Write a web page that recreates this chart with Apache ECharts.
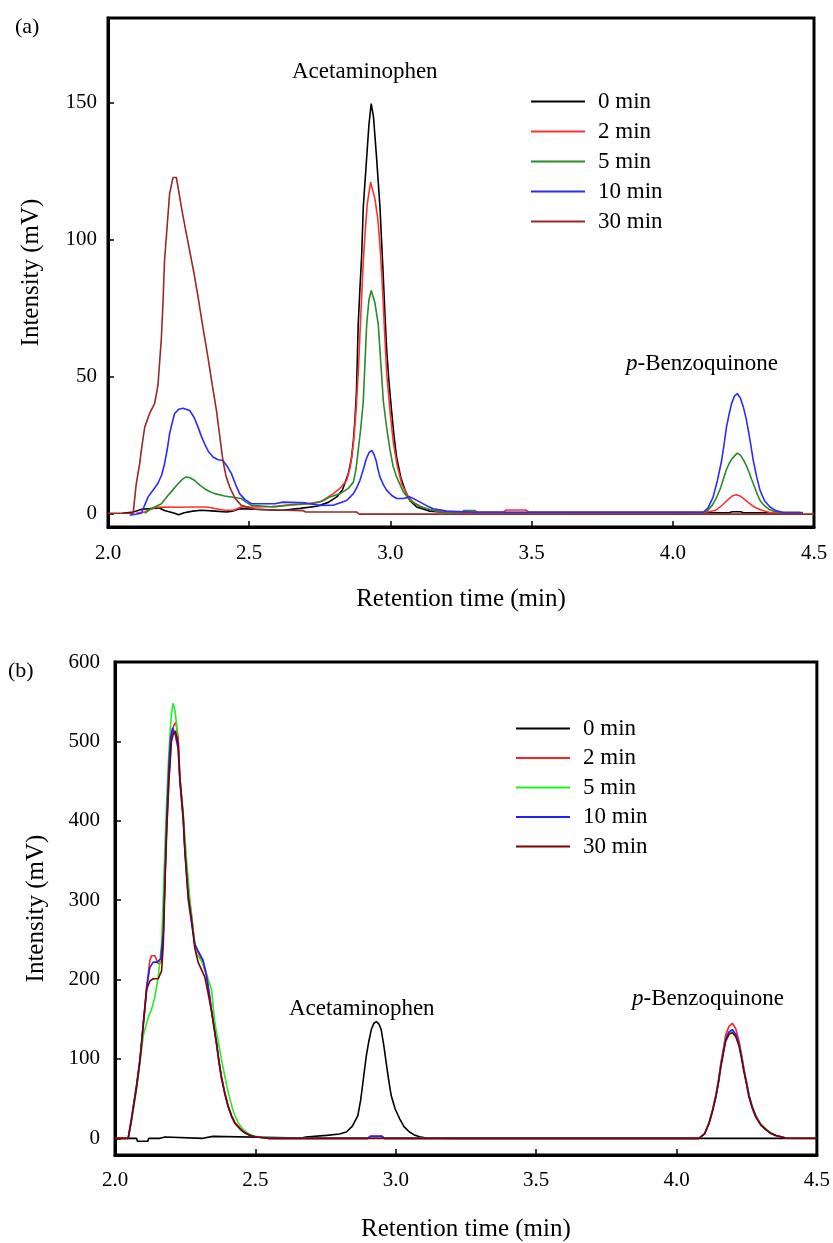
<!DOCTYPE html>
<html>
<head>
<meta charset="utf-8">
<script src="https://cdn.jsdelivr.net/npm/echarts@6/dist/echarts.min.js"></script>
<style>
html,body{margin:0;padding:0;background:#fff;}
#chart{width:833px;height:1243px;}
</style>
</head>
<body>
<div id="chart"></div>
<script>
// ---------- DATA ----------
var seriesNames = ['0 min', '2 min', '5 min', '10 min', '30 min'];
var xTicks = [2.0, 2.5, 3.0, 3.5, 4.0, 4.5];
var yTicksA = [0, 50, 100, 150];
var yTicksB = [0, 100, 200, 300, 400, 500, 600];
var peakLabels = ['Acetaminophen', 'p-Benzoquinone'];

// Panel (a) chromatograms: [retention time (min), intensity (mV)]
var a0min = [[2.05,0],[2.09,0.5],[2.12,1.5],[2.15,1.7],[2.18,2],[2.2,1],[2.236,0],[2.25,-0.5],[2.27,0.2],[2.3,0.8],[2.33,1.1],[2.38,0.8],[2.42,0.5],[2.44,0.8],[2.467,1.7],[2.52,1.5],[2.58,1.2],[2.62,1.1],[2.68,1.8],[2.74,2.6],[2.78,4],[2.81,6],[2.83,8.5],[2.851,14.5],[2.862,20],[2.869,26.6],[2.875,35],[2.88,45],[2.886,69],[2.892,82],[2.898,93.5],[2.904,112],[2.91,121],[2.916,130],[2.924,142],[2.932,149.7],[2.94,145],[2.951,130],[2.957,121],[2.963,112],[2.969,99],[2.975,86],[2.981,72],[2.987,59.5],[2.995,48],[3.004,37.6],[3.013,28],[3.022,20.5],[3.037,13],[3.052,8.4],[3.07,4.5],[3.093,2.3],[3.14,0.8],[3.2,0.3],[4.2,0.2],[4.21,0.6],[4.24,0.6],[4.25,0.2],[4.46,0.2]];
var a2min = [[2.1,0],[2.13,0.5],[2.15,1.5],[2.172,2.2],[2.2,2.3],[2.25,2.2],[2.3,2.3],[2.35,2.3],[2.413,1.1],[2.444,1.1],[2.472,2.3],[2.52,2.3],[2.58,2.5],[2.62,2.8],[2.68,3.2],[2.75,4.1],[2.798,7.2],[2.825,9.5],[2.845,12],[2.858,17],[2.869,25.4],[2.878,37],[2.886,51],[2.892,65],[2.898,79],[2.904,92],[2.91,102],[2.918,113],[2.93,121],[2.945,115],[2.955,108],[2.963,98],[2.969,88],[2.975,76],[2.981,63],[2.987,51],[2.999,37],[3.011,25.4],[3.025,17],[3.04,10.8],[3.06,6.5],[3.081,4.1],[3.11,2.3],[3.14,1.3],[3.2,0.5],[3.4,0.5],[3.41,1.2],[3.48,1.2],[3.49,0.5],[4.12,0.5],[4.15,1],[4.17,2.5],[4.19,4.5],[4.21,6.3],[4.225,6.8],[4.24,6.2],[4.255,5],[4.27,3.7],[4.285,2.5],[4.31,1.3],[4.34,0.4],[4.45,0.3]];
var a5min = [[2.13,0],[2.153,1.7],[2.189,3.5],[2.218,7.2],[2.248,10.8],[2.265,12.6],[2.277,13.3],[2.29,13],[2.307,12],[2.325,10.3],[2.342,9],[2.36,8],[2.378,7.2],[2.413,6.3],[2.472,5.4],[2.49,4],[2.508,2.9],[2.59,2.3],[2.65,3.2],[2.72,3.5],[2.76,4.5],[2.786,6],[2.822,7.2],[2.85,9],[2.869,11.4],[2.878,16],[2.886,23],[2.895,31],[2.904,41],[2.91,55],[2.916,69],[2.924,78],[2.932,81.4],[2.945,77],[2.957,69],[2.966,55],[2.975,41],[2.987,31],[2.999,23],[3.01,17],[3.022,13.3],[3.045,8],[3.069,4.7],[3.1,2.7],[3.128,1.7],[3.176,0.5],[3.25,0.3],[3.26,1],[3.3,1],[3.31,0.3],[4.11,0.3],[4.125,1.2],[4.14,3],[4.155,5.8],[4.17,9.5],[4.18,12.8],[4.19,16],[4.2,18.3],[4.21,20],[4.228,22],[4.24,21.2],[4.25,19.5],[4.26,17.5],[4.27,15],[4.28,12.2],[4.29,9.5],[4.3,6.8],[4.31,4.5],[4.325,2.7],[4.34,1.5],[4.36,0.7],[4.38,0.3],[4.45,0.3]];
var a10min = [[2.077,-0.7],[2.118,0],[2.13,3],[2.142,6],[2.16,8.5],[2.177,11],[2.19,14],[2.2,18],[2.21,23.5],[2.218,29],[2.227,33],[2.236,36.5],[2.25,38],[2.266,38.4],[2.289,37.6],[2.305,35],[2.319,31.5],[2.33,28.3],[2.342,25.4],[2.356,22.5],[2.372,20.6],[2.39,19.6],[2.407,19.3],[2.42,17.5],[2.437,14.5],[2.452,10.5],[2.466,7.2],[2.485,5],[2.508,3.5],[2.59,3.5],[2.62,4.1],[2.7,3.8],[2.75,2.9],[2.8,3],[2.845,4.7],[2.869,7.2],[2.88,9.2],[2.892,12],[2.904,16],[2.915,20],[2.925,22.3],[2.934,23],[2.942,21.5],[2.95,19],[2.956,16],[2.963,13.3],[2.975,10.5],[2.987,8.4],[3.005,6.5],[3.022,5.4],[3.046,5.4],[3.069,6],[3.085,5.2],[3.105,4.1],[3.128,2.8],[3.152,1.7],[3.2,0.8],[3.3,0.4],[4.108,0.4],[4.125,2],[4.143,6],[4.158,12],[4.173,19.3],[4.182,25.5],[4.19,31.5],[4.2,36.5],[4.208,40],[4.218,42.8],[4.229,43.7],[4.24,42],[4.25,38.8],[4.26,34.5],[4.268,30],[4.277,24.5],[4.285,19.3],[4.297,13.3],[4.309,8.4],[4.325,4.6],[4.344,2.3],[4.365,1],[4.391,0.3],[4.46,0.3]];
var a30min = [[2.0,0],[2.089,0],[2.1,10.8],[2.112,18],[2.118,23],[2.13,31.5],[2.147,36.4],[2.165,40.1],[2.174,45],[2.177,47],[2.189,64],[2.195,77.7],[2.2,92],[2.21,105.7],[2.218,116.7],[2.23,122.7],[2.242,122.7],[2.25,118],[2.26,111.8],[2.274,104],[2.289,96],[2.304,88],[2.319,79],[2.336,68],[2.354,57],[2.369,47],[2.384,37.6],[2.396,28],[2.407,19.3],[2.418,13.5],[2.431,9.6],[2.45,5.5],[2.472,2.9],[2.519,1.5],[2.6,1.2],[2.69,1],[2.7,0.5],[2.88,0.5],[2.89,-0.3],[4.5,-0.3]];

// Panel (b) chromatograms
var b0min = [[2.0,0],[2.077,0],[2.08,-3.7],[2.117,-3.7],[2.12,0],[2.16,0],[2.162,1.7],[2.178,1.7],[2.18,0],[2.313,0],[2.315,2.5],[2.349,2.5],[2.351,0],[2.664,0.5],[2.68,1.7],[2.753,3.7],[2.8,5.5],[2.824,8],[2.845,15],[2.865,28.7],[2.875,48],[2.883,70],[2.889,87],[2.895,103.5],[2.904,122],[2.913,137],[2.922,145],[2.931,147],[2.94,144],[2.948,137],[2.957,118],[2.966,95],[2.975,73],[2.984,53.6],[2.998,37],[3.014,24.5],[3.03,14.5],[3.049,8],[3.066,4.3],[3.085,2],[3.108,0.4],[3.2,0],[4.5,0]];
var b2min = [[2.0,0],[2.047,0],[2.059,24.5],[2.077,66],[2.089,99],[2.101,145],[2.113,191],[2.124,224],[2.13,230],[2.142,230],[2.154,220],[2.166,222],[2.172,253],[2.178,328],[2.184,390],[2.192,452],[2.201,505],[2.209,520],[2.217,524],[2.225,505],[2.231,455],[2.243,405],[2.249,365],[2.261,310],[2.273,280],[2.284,245],[2.296,234],[2.308,226],[2.326,205],[2.335,185],[2.344,162],[2.353,141],[2.362,120],[2.37,99],[2.379,78.5],[2.391,58],[2.403,41],[2.415,29],[2.427,20],[2.445,13],[2.462,8],[2.48,4.5],[2.498,2],[2.545,0],[2.9,0],[2.91,3],[2.95,3],[2.96,0],[4.08,0],[4.1,6],[4.116,20],[4.128,35],[4.14,54],[4.15,75],[4.158,95],[4.167,113],[4.175,130],[4.187,141],[4.199,145],[4.211,138],[4.223,122],[4.232,105],[4.24,88],[4.25,70],[4.258,55],[4.27,40],[4.282,29],[4.3,18],[4.318,12],[4.335,7],[4.353,4],[4.389,0.4]];
var b5min = [[2.047,0],[2.059,22],[2.077,62],[2.089,95],[2.101,130],[2.119,153],[2.13,162],[2.142,178],[2.154,203],[2.166,245],[2.172,305],[2.178,369],[2.184,425],[2.19,473],[2.196,511],[2.201,535],[2.207,548],[2.213,540],[2.219,523],[2.225,490],[2.231,452],[2.243,410],[2.255,350],[2.267,300],[2.279,260],[2.29,232],[2.305,225],[2.32,215],[2.332,200],[2.344,187],[2.35,165],[2.356,145],[2.365,127],[2.374,110],[2.382,94],[2.391,78.5],[2.4,63],[2.409,50],[2.418,38],[2.427,28.7],[2.438,20],[2.45,14],[2.462,9.5],[2.474,6],[2.49,3.5],[2.51,2],[2.56,0],[2.9,0],[2.91,2],[2.95,2],[2.96,0],[4.08,0],[4.1,6],[4.116,20],[4.128,35],[4.14,53],[4.15,73],[4.158,93],[4.167,110],[4.175,126],[4.187,133],[4.199,135],[4.211,130],[4.223,119],[4.232,103],[4.24,87],[4.25,70],[4.258,55],[4.27,40],[4.282,29],[4.3,18],[4.318,12],[4.335,7],[4.353,4],[4.389,0.4]];
var b10min = [[2.047,0],[2.059,26],[2.077,68],[2.089,100],[2.101,146],[2.113,190],[2.124,215],[2.136,222],[2.15,222],[2.163,226],[2.172,260],[2.178,330],[2.184,400],[2.192,470],[2.198,505],[2.205,517],[2.215,508],[2.225,490],[2.231,450],[2.243,400],[2.249,360],[2.261,300],[2.273,270],[2.284,245],[2.296,236],[2.314,224],[2.326,205],[2.335,183],[2.344,160],[2.353,139],[2.362,118],[2.37,97],[2.379,76],[2.391,56],[2.403,40],[2.415,28],[2.427,19],[2.445,12],[2.462,7],[2.48,4],[2.498,2],[2.545,0],[2.9,0],[2.91,2.5],[2.95,2.5],[2.96,0],[4.08,0],[4.1,5.5],[4.116,19],[4.128,34],[4.14,52],[4.15,72],[4.158,92],[4.167,109],[4.175,125],[4.187,134],[4.199,137],[4.211,131],[4.223,118],[4.232,102],[4.24,86],[4.25,69],[4.258,54],[4.27,39],[4.282,28],[4.3,17],[4.318,11],[4.335,6.5],[4.353,3.5],[4.389,0.3]];
var b30min = [[2.0,0],[2.047,0],[2.059,24],[2.077,65],[2.089,98],[2.101,143],[2.113,188],[2.124,198],[2.136,201],[2.154,201],[2.166,211],[2.172,245],[2.178,320],[2.184,385],[2.192,450],[2.201,500],[2.208,510],[2.215,513],[2.225,498],[2.231,455],[2.243,405],[2.249,362],[2.261,305],[2.273,275],[2.284,240],[2.296,222],[2.32,203],[2.332,182],[2.344,160],[2.353,139],[2.362,118],[2.37,97],[2.379,77],[2.391,57],[2.403,40],[2.415,28],[2.427,19],[2.445,12],[2.462,7],[2.48,4],[2.498,2],[2.545,0],[4.08,0],[4.1,5.5],[4.116,19],[4.128,34],[4.14,52],[4.15,71],[4.158,90],[4.167,107],[4.175,122],[4.187,131],[4.199,133],[4.211,128],[4.223,116],[4.232,100],[4.24,84],[4.25,67],[4.258,52],[4.27,38],[4.282,27],[4.3,17],[4.318,11],[4.335,6.5],[4.353,3.5],[4.389,0.3],[4.5,0]];

var dataA = [a0min, a2min, a5min, a10min, a30min];
var dataB = [b0min, b2min, b5min, b10min, b30min];
var colorsA = ['#000000', '#ff3030', '#2a8a2a', '#2b2bff', '#992828'];
var colorsB = ['#000000', '#ff2020', '#22ee22', '#2020ff', '#800000'];

// ---------- CHART ----------
var FONT = '"Liberation Serif", "Times New Roman", serif';
var chart = echarts.init(document.getElementById('chart'), null, {renderer: 'canvas'});

function xAxisCfg(gi, margin, gap) {
  return {
    type: 'value', gridIndex: gi, min: 2.0, max: 4.5, interval: 0.5,
    name: 'Retention time (min)', nameLocation: 'middle', nameGap: gap,
    nameTextStyle: {fontFamily: FONT, fontSize: 25, color: '#000'},
    axisLine: {show: true, onZero: false, lineStyle: {color: '#000', width: 3}},
    axisTick: {show: true, inside: true, length: 6, lineStyle: {color: '#000', width: 1.5}},
    axisLabel: {fontFamily: FONT, fontSize: 21, color: '#000', margin: margin,
      formatter: function (v) { return v.toFixed(1); }},
    splitLine: {show: false}
  };
}
function yAxisCfg(gi, min, max, ticks, margin, gap) {
  return {
    type: 'value', gridIndex: gi, min: min, max: max,
    name: 'Intensity (mV)', nameLocation: 'middle', nameGap: gap,
    nameTextStyle: {fontFamily: FONT, fontSize: 25, color: '#000'},
    axisLine: {show: true, onZero: false, lineStyle: {color: '#000', width: 3}},
    axisTick: {show: true, inside: true, length: 6, customValues: ticks, lineStyle: {color: '#000', width: 1.5}},
    axisLabel: {fontFamily: FONT, fontSize: 21, color: '#000', margin: margin, customValues: ticks},
    splitLine: {show: false}
  };
}

var series = [];
seriesNames.forEach(function (n, i) {
  series.push({name: n, type: 'line', xAxisIndex: 0, yAxisIndex: 0, data: dataA[i],
    symbol: 'none', smooth: false, lineStyle: {color: colorsA[i], width: 1.6}, itemStyle: {color: colorsA[i]}, z: 2 + i});
});
seriesNames.forEach(function (n, i) {
  series.push({name: n, type: 'line', xAxisIndex: 1, yAxisIndex: 1, data: dataB[i],
    symbol: 'none', smooth: false, lineStyle: {color: colorsB[i], width: 1.6}, itemStyle: {color: colorsB[i]}, z: 2 + i});
});

function legendCfg(left, top, colors, gap) {
  return {
    orient: 'vertical', left: left, top: top, itemWidth: 54, itemHeight: 2, itemGap: gap,
    icon: 'rect', selectedMode: false,
    textStyle: {fontFamily: FONT, fontSize: 23, color: '#000', lineHeight: 23, padding: [0, 0, 0, 8]},
    data: seriesNames.map(function (n, i) { return {name: n, itemStyle: {color: colors[i]}}; })
  };
}

var textStyleBase = {fontFamily: FONT, fontSize: 23, fill: '#000'};
function label(x, y, text) {
  return {type: 'text', left: x, top: y, style: Object.assign({}, textStyleBase, {
    text: text, rich: {i: {fontFamily: FONT, fontSize: 23, fontStyle: 'italic', fill: '#000'}}})};
}

chart.setOption({
  animation: false,
  backgroundColor: '#fff',
  grid: [
    {left: 108, top: 18, width: 706, height: 509, show: true, borderColor: '#000', borderWidth: 3, backgroundColor: 'transparent'},
    {left: 115, top: 662, width: 702, height: 498, show: true, borderColor: '#000', borderWidth: 3, backgroundColor: 'transparent'}
  ],
  xAxis: [xAxisCfg(0, 16, 60), xAxisCfg(1, 15, 62)],
  yAxis: [yAxisCfg(0, -5, 181, yTicksA, 11, 64), yAxisCfg(1, -21, 600, yTicksB, 15, 66)],
  legend: [legendCfg(526, 85, colorsA, 7), legendCfg(511, 712, colorsB, 6.5)],
  series: series,
  graphic: [
    {type: 'text', left: 15, top: 16, style: {text: '(a)', fontFamily: FONT, fontSize: 22, fill: '#000'}},
    {type: 'text', left: 8, top: 660, style: {text: '(b)', fontFamily: FONT, fontSize: 22, fill: '#000'}},
    label(292, 60, peakLabels[0]),
    label(626, 352, '{i|p}' + peakLabels[1].slice(1)),
    label(289, 997, peakLabels[0]),
    label(632, 987, '{i|p}' + peakLabels[1].slice(1))
  ]
});
</script>
</body>
</html>
